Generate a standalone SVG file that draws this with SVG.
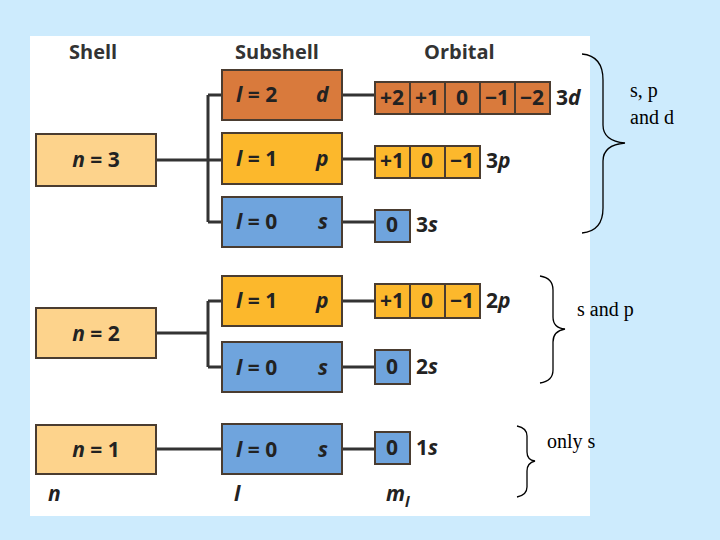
<svg xmlns="http://www.w3.org/2000/svg" width="720" height="540" viewBox="0 0 720 540">
<style>
.b{stroke:#4a3c30;stroke-width:2}
.o{fill:#d97a3c}.y{fill:#fcb82c}.u{fill:#6fa4dd}.n{fill:#fdd38c}
.t{font-family:"Open Sans","DejaVu Sans",sans-serif;font-weight:bold;font-size:21px;fill:#222}
.i{font-style:italic}
.h{font-family:"Open Sans","DejaVu Sans",sans-serif;font-weight:bold;font-size:20px;fill:#333}
.c{stroke:#333;stroke-width:3;fill:none}
.br{stroke:#000;stroke-width:1.3;fill:none}
.r{font-family:"Liberation Serif",serif;font-size:20px;fill:#000}
</style>
<rect width="720" height="540" fill="#cdebfd"/>
<rect x="30" y="36" width="560" height="480" fill="#fff"/>
<text class="h" x="69" y="59">Shell</text>
<text class="h" x="235" y="59">Subshell</text>
<text class="h" x="424" y="59">Orbital</text>
<g id="connectors">
<path class="c" d="M156 160H222M208 95V222M208 95H222M208 222H222M342 95H375M342 159H375M342 222H375"/>
<path class="c" d="M156 333H208M208 301V367M208 301H222M208 367H222M342 301H375M342 367H375"/>
<path class="c" d="M156 449H222M342 449H375"/>
</g>
<g id="n3"><rect class="b n" x="36" y="134" width="120" height="52"/><text class="t" x="96" y="167" text-anchor="middle"><tspan class="i">n</tspan> = 3</text></g>
<g id="l2"><rect class="b o" x="222" y="70" width="120" height="50"/><text class="t" x="236" y="102"><tspan class="i">l</tspan> = 2</text><text class="t i" x="316" y="102">d</text></g>
<g id="l1a"><rect class="b y" x="222" y="133" width="120" height="51"/><text class="t" x="236" y="166"><tspan class="i">l</tspan> = 1</text><text class="t i" x="316" y="166">p</text></g>
<g id="l0a"><rect class="b u" x="222" y="197" width="120" height="50"/><text class="t" x="236" y="229"><tspan class="i">l</tspan> = 0</text><text class="t i" x="318" y="229">s</text></g>
<g id="o3d"><rect class="b o" x="375" y="82" width="175" height="32"/><path class="b" d="M410 82V114M445 82V114M480 82V114M515 82V114"/>
<text class="t" y="105" text-anchor="middle"><tspan x="392">+2</tspan><tspan x="427">+1</tspan><tspan x="462">0</tspan><tspan x="497">−1</tspan><tspan x="532">−2</tspan></text><text class="t" x="556" y="105">3<tspan class="i">d</tspan></text></g>
<g id="o3p"><rect class="b y" x="375" y="146" width="105" height="32"/><path class="b" d="M410 146V178M445 146V178"/>
<text class="t" y="168" text-anchor="middle"><tspan x="392">+1</tspan><tspan x="427">0</tspan><tspan x="462">−1</tspan></text><text class="t" x="486" y="168">3<tspan class="i">p</tspan></text></g>
<g id="o3s"><rect class="b u" x="375" y="210" width="35" height="32"/><text class="t" x="392" y="232" text-anchor="middle">0</text><text class="t" x="416" y="232">3<tspan class="i">s</tspan></text></g>
<g id="n2"><rect class="b n" x="36" y="308" width="120" height="50"/><text class="t" x="96" y="341" text-anchor="middle"><tspan class="i">n</tspan> = 2</text></g>
<g id="l1b"><rect class="b y" x="222" y="276" width="120" height="50"/><text class="t" x="236" y="308"><tspan class="i">l</tspan> = 1</text><text class="t i" x="316" y="308">p</text></g>
<g id="l0b"><rect class="b u" x="222" y="342" width="120" height="50"/><text class="t" x="236" y="375"><tspan class="i">l</tspan> = 0</text><text class="t i" x="318" y="375">s</text></g>
<g id="o2p"><rect class="b y" x="375" y="284" width="105" height="34"/><path class="b" d="M410 284V318M445 284V318"/>
<text class="t" y="308" text-anchor="middle"><tspan x="392">+1</tspan><tspan x="427">0</tspan><tspan x="462">−1</tspan></text><text class="t" x="486" y="308">2<tspan class="i">p</tspan></text></g>
<g id="o2s"><rect class="b u" x="375" y="350" width="35" height="34"/><text class="t" x="392" y="374" text-anchor="middle">0</text><text class="t" x="416" y="374">2<tspan class="i">s</tspan></text></g>
<g id="n1"><rect class="b n" x="36" y="425" width="120" height="49"/><text class="t" x="96" y="457" text-anchor="middle"><tspan class="i">n</tspan> = 1</text></g>
<g id="l0c"><rect class="b u" x="222" y="424" width="120" height="50"/><text class="t" x="236" y="457"><tspan class="i">l</tspan> = 0</text><text class="t i" x="318" y="457">s</text></g>
<g id="o1s"><rect class="b u" x="375" y="432" width="35" height="32"/><text class="t" x="392" y="455" text-anchor="middle">0</text><text class="t" x="416" y="455">1<tspan class="i">s</tspan></text></g>
<text class="t i" x="48" y="501">n</text>
<text class="t i" x="234" y="501">l</text>
<text class="t i" x="386" y="501">m<tspan font-size="15" dy="6">l</tspan></text>
<g id="braces">
<path class="br" d="M582 54Q603 56 603 80V125Q603 141 625 143Q603 145 603 161V208Q603 231 582 233"/>
<path class="br" d="M540 276Q553 278 553 290V317Q553 328 565 329Q553 331 553 342V370Q553 381 540 383"/>
<path class="br" d="M517 426Q527 428 527 436V452Q527 460 535 461Q527 463 527 471V487Q527 495 517 497"/>
</g>
<text class="r" x="630" y="97">s, p</text>
<text class="r" x="630" y="124">and d</text>
<text class="r" x="577" y="316">s and p</text>
<text class="r" x="547" y="448">only s</text>
</svg>
